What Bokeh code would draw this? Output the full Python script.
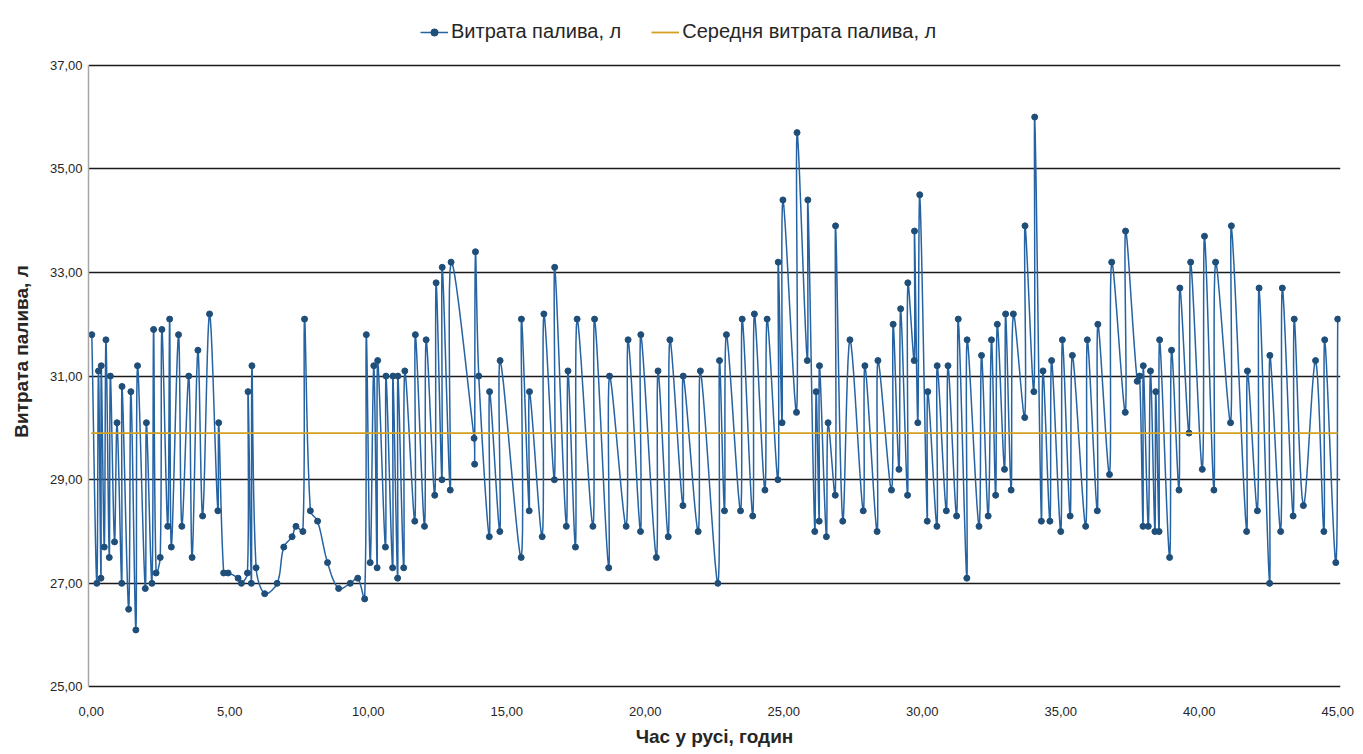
import numpy as np
from bokeh.plotting import figure
from bokeh.models import Legend, LegendItem, FixedTicker
from bokeh.embed import file_html
from bokeh.resources import INLINE

# ---------------- data ----------------
hours = [
    0.02, 0.20, 0.26, 0.35, 0.36, 0.47, 0.53, 0.65, 0.69, 0.84,
    0.93, 1.10, 1.11, 1.35, 1.43, 1.61, 1.67, 1.95, 1.99, 2.19,
    2.25, 2.34, 2.49, 2.55, 2.76, 2.83, 2.89, 3.15, 3.27, 3.52,
    3.64, 3.85, 4.02, 4.27, 4.57, 4.60, 4.78, 4.94,
    5.30, 5.42, 5.64, 5.66, 5.78, 5.80, 5.95, 6.26, 6.71, 6.95,
    7.25, 7.39, 7.64, 7.70, 7.91, 8.17, 8.53, 8.93, 9.35, 9.62,
    9.87, 9.93,
    10.07, 10.20, 10.32, 10.34, 10.62, 10.64, 10.88, 10.89, 11.06, 11.07,
    11.28, 11.32, 11.68, 11.70, 12.03, 12.09, 12.40, 12.45, 12.66, 12.67,
    12.96, 12.99, 13.82, 13.84, 13.87, 13.99, 14.37, 14.38, 14.75, 14.76,
    15.52, 15.53, 15.81, 15.82, 16.28, 16.34, 16.72, 16.73, 17.15, 17.21,
    17.48, 17.54, 18.11, 18.17, 18.68, 18.71, 19.31, 19.38, 19.83, 19.84,
    20.40, 20.46, 20.83, 20.89, 21.36, 21.37, 21.91, 21.99, 22.62, 22.68,
    22.86, 22.93, 23.44, 23.50, 23.88, 23.94, 24.32, 24.40, 24.79, 24.80,
    24.94, 24.97,
    25.46, 25.48, 25.85, 25.87, 26.12, 26.17, 26.28, 26.29, 26.54, 26.60,
    26.86, 26.87, 27.13, 27.39, 27.87, 27.93, 28.37, 28.40, 28.89, 28.95,
    29.16, 29.22, 29.47, 29.48, 29.71, 29.72, 29.84, 29.91,
    30.18, 30.20, 30.53, 30.54, 30.87, 30.93, 31.24, 31.30, 31.61, 31.62,
    32.05, 32.14, 32.38, 32.50, 32.65, 32.71, 32.97, 33.01, 33.21, 33.29,
    33.70, 33.71, 34.03, 34.06, 34.30, 34.36, 34.61, 34.67,
    35.00, 35.06, 35.34, 35.42, 35.90, 35.96, 36.32, 36.34, 36.76, 36.84,
    37.33, 37.34, 37.76, 37.85, 37.97, 37.98, 38.16, 38.24, 38.40, 38.43,
    38.55, 38.57, 38.93, 39.00, 39.27, 39.30, 39.63, 39.69,
    40.11, 40.19, 40.53, 40.59, 41.13, 41.16, 41.71, 41.74, 42.10, 42.16,
    42.54, 42.55, 42.94, 43.00, 43.39, 43.43, 43.76, 44.20, 44.50, 44.53,
    44.93, 45.00,
]

fuel = [
    31.8, 27.0, 31.1, 27.1, 31.2, 27.7, 31.7, 27.5, 31.0, 27.8,
    30.1, 27.0, 30.8, 26.5, 30.7, 26.1, 31.2, 26.9, 30.1, 27.0,
    31.9, 27.2, 27.5, 31.9, 28.1, 32.1, 27.7, 31.8, 28.1, 31.0,
    27.5, 31.5, 28.3, 32.2, 28.4, 30.1, 27.2, 27.2,
    27.1, 27.0, 27.2, 30.7, 27.0, 31.2, 27.3, 26.8, 27.0, 27.7,
    27.9, 28.1, 28.0, 32.1, 28.4, 28.2, 27.4, 26.9, 27.0, 27.1,
    26.7, 31.8,
    27.4, 31.2, 27.3, 31.3, 27.7, 31.0, 27.3, 31.0, 27.1, 31.0,
    27.3, 31.1, 28.2, 31.8, 28.1, 31.7, 28.7, 32.8, 29.0, 33.1,
    28.8, 33.2, 29.8, 29.3, 33.4, 31.0, 27.9, 30.7, 28.0, 31.3,
    27.5, 32.1, 28.4, 30.7, 27.9, 32.2, 29.0, 33.1, 28.1, 31.1,
    27.7, 32.1, 28.1, 32.1, 27.3, 31.0, 28.1, 31.7, 28.0, 31.8,
    27.5, 31.1, 27.9, 31.7, 28.5, 31.0, 28.0, 31.1, 27.0, 31.3,
    28.4, 31.8, 28.4, 32.1, 28.3, 32.2, 28.8, 32.1, 29.0, 33.2,
    30.1, 34.4,
    30.3, 35.7, 31.3, 34.4, 28.0, 30.7, 28.2, 31.2, 27.9, 30.1,
    28.7, 33.9, 28.2, 31.7, 28.4, 31.2, 28.0, 31.3, 28.8, 32.0,
    29.2, 32.3, 28.7, 32.8, 31.3, 33.8, 30.1, 34.5,
    28.2, 30.7, 28.1, 31.2, 28.4, 31.2, 28.3, 32.1, 27.1, 31.7,
    28.1, 31.4, 28.3, 31.7, 28.7, 32.0, 29.2, 32.2, 28.8, 32.2,
    30.2, 33.9, 30.7, 36.0, 28.2, 31.1, 28.2, 31.3,
    28.0, 31.7, 28.3, 31.4, 28.1, 31.7, 28.4, 32.0, 29.1, 33.2,
    30.3, 33.8, 30.9, 31.0, 28.1, 31.2, 28.1, 31.1, 28.0, 30.7,
    28.0, 31.7, 27.5, 31.5, 28.8, 32.7, 29.9, 33.2,
    29.2, 33.7, 28.8, 33.2, 30.1, 33.9, 28.0, 31.1, 28.4, 32.7,
    27.0, 31.4, 28.0, 32.7, 28.3, 32.1, 28.5, 31.3, 28.0, 31.7,
    27.4, 32.1,
]

mean_fuel = 29.9

x_ticks = [0, 5, 10, 15, 20, 25, 30, 35, 40, 45]
x_tick_labels = ["0,00", "5,00", "10,00", "15,00", "20,00", "25,00",
                 "30,00", "35,00", "40,00", "45,00"]
y_ticks = [25, 27, 29, 31, 33, 35, 37]
y_tick_labels = ["25,00", "27,00", "29,00", "31,00", "33,00", "35,00", "37,00"]

series_label = "Витрата палива, л"
mean_label = "Середня витрата палива, л"
x_title = "Час у русі, годин"
y_title = "Витрата палива, л"

# frame geometry: the frame also holds the legend strip above 37
X_LO, X_HI = x_ticks[0] - 0.1, x_ticks[-1] + 0.1
Y_LO, Y_HI = y_ticks[0] - 0.03, y_ticks[-1] + 0.98
FRAME_W = 1252
FRAME_H = 674
PX_PER_X = FRAME_W / (X_HI - X_LO)
PX_PER_Y = FRAME_H / (Y_HI - Y_LO)


# Excel-like smoothed line rendering: Bezier through every data point,
# handles proportional to the adjacent segment lengths (in screen space)
def smooth_path(xs, ys, steps=10):
    x = np.asarray(xs, float) * PX_PER_X
    y = np.asarray(ys, float) * PX_PER_Y
    n = len(x)
    tx = np.zeros(n)
    ty = np.zeros(n)
    for i in range(n):
        i0 = max(i - 1, 0)
        i2 = min(i + 1, n - 1)
        d01 = np.hypot(x[i] - x[i0], y[i] - y[i0])
        d12 = np.hypot(x[i2] - x[i], y[i2] - y[i])
        s = d01 + d12
        if s > 0:
            tx[i] = (x[i2] - x[i0]) / s
            ty[i] = (y[i2] - y[i0]) / s
    t = np.linspace(0.0, 1.0, steps, endpoint=False)
    ox, oy = [], []
    for i in range(n - 1):
        d = np.hypot(x[i + 1] - x[i], y[i + 1] - y[i])
        c1x, c1y = x[i] + tx[i] * d / 3.0, y[i] + ty[i] * d / 3.0
        c2x, c2y = x[i + 1] - tx[i + 1] * d / 3.0, y[i + 1] - ty[i + 1] * d / 3.0
        a = (1 - t) ** 3
        b = 3 * (1 - t) ** 2 * t
        c = 3 * (1 - t) * t ** 2
        e = t ** 3
        ox.extend(a * x[i] + b * c1x + c * c2x + e * x[i + 1])
        oy.extend(a * y[i] + b * c1y + c * c2y + e * y[i + 1])
    ox.append(x[-1])
    oy.append(y[-1])
    return list(np.array(ox) / PX_PER_X), list(np.array(oy) / PX_PER_Y)


sx, sy = smooth_path(hours, fuel)

FONT = "Liberation Sans"
TXT = "#262626"

p = figure(
    width=1355, height=750,
    x_range=(X_LO, X_HI), y_range=(Y_LO, Y_HI),
    output_backend="svg", toolbar_location=None,
    frame_width=FRAME_W, frame_height=FRAME_H,
    min_border_left=88, min_border_right=15,
    min_border_top=14, min_border_bottom=62,
    outline_line_color=None,
    background_fill_color="white", border_fill_color="white",
)

# grid
p.xgrid.visible = False
p.ygrid.ticker = FixedTicker(ticks=y_ticks)
p.ygrid.grid_line_color = "#1a1a1a"
p.ygrid.grid_line_width = 1.4

# axes
p.xaxis.ticker = FixedTicker(ticks=x_ticks)
p.xaxis.major_label_overrides = {k: v for k, v in zip(x_ticks, x_tick_labels)}
p.yaxis.ticker = FixedTicker(ticks=y_ticks)
p.yaxis.major_label_overrides = {k: v for k, v in zip(y_ticks, y_tick_labels)}
p.yaxis.bounds = (y_ticks[0], y_ticks[-1])

for ax in (p.xaxis[0], p.yaxis[0]):
    ax.major_tick_line_color = None
    ax.minor_tick_line_color = None
    ax.major_label_text_font = FONT
    ax.major_label_text_font_size = "13px"
    ax.major_label_text_color = TXT
    ax.axis_label_text_font = FONT
    ax.axis_label_text_font_size = "19px"
    ax.axis_label_text_font_style = "bold"
    ax.axis_label_text_color = TXT

p.xaxis.axis_line_color = None
p.yaxis.axis_line_color = "#a6a6a6"
p.yaxis.axis_line_width = 1.5
p.xaxis.major_label_standoff = 12
p.yaxis.major_label_standoff = 0
p.xaxis.axis_label_standoff = 7
p.yaxis.axis_label_standoff = 15
p.xaxis.axis_label = x_title
p.yaxis.axis_label = y_title

# series
line_r = p.line(sx, sy, line_color="#2563A3", line_width=1.5)
dot_r = p.scatter(hours, fuel, size=6, marker="circle",
                  fill_color="#1F4E79", line_color="#1F4E79")
mean_r = p.line(x=[x_ticks[0], x_ticks[-1]], y=[mean_fuel, mean_fuel],
                line_color="#D4A020", line_width=1.8)

legend = Legend(
    items=[LegendItem(label=series_label, renderers=[line_r, dot_r]),
           LegendItem(label=mean_label, renderers=[mean_r])],
    orientation="horizontal",
    location=(332, 645),
    border_line_color=None, background_fill_alpha=0,
    label_text_font=FONT, label_text_font_size="20px", label_text_color=TXT,
    glyph_width=28, glyph_height=18, label_standoff=3,
    spacing=30, padding=2, margin=0,
)
p.add_layout(legend, "center")

open("out.html", "w").write(file_html(p, INLINE))
